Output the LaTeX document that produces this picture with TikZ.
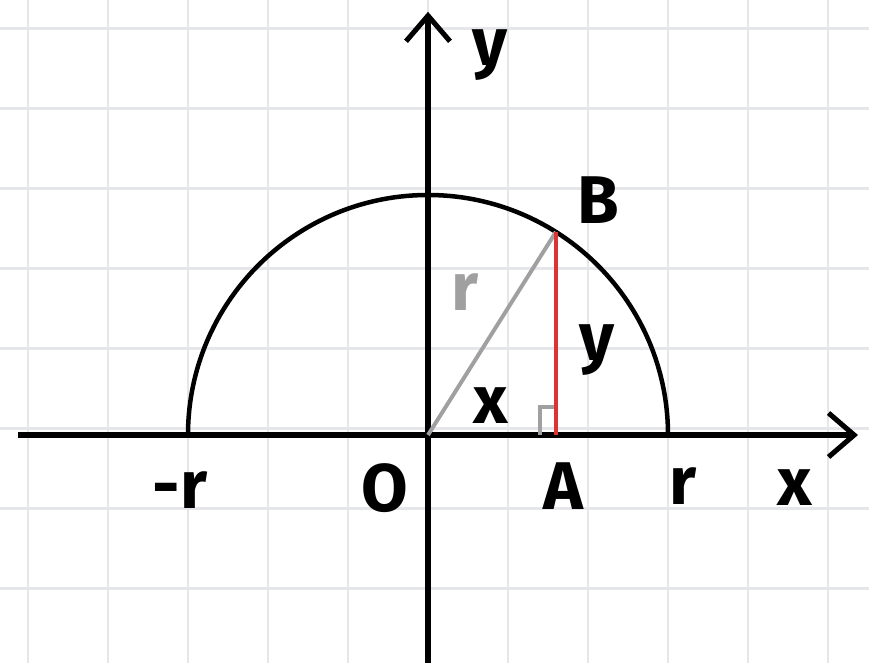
\documentclass[tikz,border=0pt]{standalone}
\usepackage{fontspec}
\setsansfont{Fira Sans}
\usepackage{xcolor}
\usetikzlibrary{arrows.meta, positioning}
\definecolor{gridgray}{RGB}{228,230,233}
\definecolor{radgray}{RGB}{160,160,160}
\definecolor{legred}{RGB}{220,52,52}
\tikzset{
  gridline/.style={draw=gridgray, line width=1pt},
  axis/.style={draw=black, line width=1.8pt,
               -{Straight Barb[length=3.2mm, width=5.5mm, line width=1.8pt]}},
  curve/.style={draw=black, line width=1.6pt},
  radline/.style={draw=radgray, line width=1.4pt},
  leg/.style={draw=legred, line width=1.4pt},
  tag/.style={font=\sffamily\bfseries\fontsize{24}{26}\selectfont, text=black, inner sep=1pt},
}

\begin{document}
\begin{tikzpicture}
  \useasboundingbox (-5.35,-2.8375) rectangle (5.5125,5.4375);
  \fill[white] (-5.35,-2.8375) rectangle (5.5125,5.4375);
  \begin{scope}
    \clip (-5.35,-2.8375) rectangle (5.5125,5.4375);
    \draw[gridline, shift={(0,0.08)}] (-6,-4) grid (6,6);
  \end{scope}

  % points
  \coordinate (O) at (0,0);
  \coordinate (B) at (57.8:3);
  \coordinate (A) at (B |- O);
  \coordinate (xl) at (-5.125,0);
  \coordinate (xr) at (5.375,0);
  \coordinate (yb) at (0,-2.9);
  \coordinate (yt) at (0,5.29);

  % half circle
  \draw[curve] (3,0) arc[start angle=0, end angle=180, radius=3];

  % axes
  \draw[axis] (xl) -- (xr);
  \draw[axis] (yb) -- (yt);

  % triangle
  \draw[radline] (O) -- (B);
  \draw[radline, line width=1.2pt] ([xshift=-0.2cm]A) -- ++(0,0.35) -- ++(0.2,0);
  \draw[leg] (A) -- (B);

  % labels
  \node[tag] (ylab) at (0.78,4.75) {y};
  \node[tag] (Blab) at (2.13,2.94) {B};
  \node[tag, text=radgray] (rlab) at (0.46,1.79) {r};
  \node[tag] (leglab) at (2.11,1.06) {y};
  \node[tag] (xseg) at (0.78,0.37) {x};
  \node[tag] (mr) at (-3.1,-0.69) {-r};
  \node[tag] (Olab) at (-0.54,-0.66) {O};
  \node[tag] (Alab) at (1.69,-0.64) {A};
  \node[tag] (rr) at (3.19,-0.64) {r};
  \node[tag] (xlab) at (4.59,-0.66) {x};
\end{tikzpicture}
\end{document}
